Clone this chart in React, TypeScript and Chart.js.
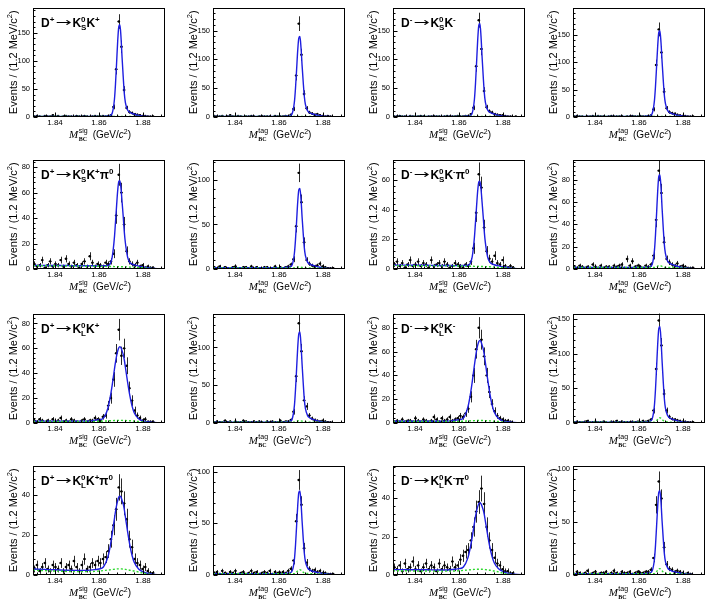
import React, { useEffect, useRef } from "react";
import { Chart, registerables } from "chart.js";

Chart.register(...registerables);

// ---------------- binning / axes ----------------
const X_MIN = 1.83;
const X_MAX = 1.89;
const BIN_WIDTH = 0.0012; // 1.2 MeV bins, 50 bins
const X_TICKS = [1.84, 1.86, 1.88];
const X_MINOR = 0.004;

// x positions at which the fit curves are tabulated
const FIT_X = [1.830, 1.835, 1.840, 1.845, 1.850, 1.855, 1.858, 1.860, 1.862, 1.864, 1.865, 1.866, 1.867, 1.8675, 1.868, 1.8685, 1.869, 1.8695, 1.870, 1.8705, 1.871, 1.8715, 1.872, 1.873, 1.874, 1.875, 1.876, 1.878, 1.880, 1.885, 1.890];

const Y_TICKS_150 = [0, 50, 100, 150];
const Y_TICKS_100 = [0, 50, 100];
const Y_TICKS_80 = [0, 20, 40, 60, 80];
const Y_TICKS_60 = [0, 20, 40, 60];
const Y_TICKS_40 = [0, 20, 40];

// ---------------- row 1: D -> KS K ----------------
const COUNTS_KSK_DP_SIG = [1,2,1,0,2,1,1,3,1,2,0,1,2,1,1,0,2,1,1,2,1,0,1,2,1,1,2,1, 2,3,18,85,170,125,48,16,9,7,5,4,3,2,2,1,1,1,0,0,0,0];
const FIT_KSK_DP_SIG = [1,1,1,1,1,1,1,1,1,1.8,2.7,6.8,30.7,58.8,96.7,135.5,161,164.4,142,105,72,42,25.8,12.6,8.4,6.4,5.1,2.9,1.6,0.4,0];
const BKG_KSK_DP_SIG = [1,1,1,1,1,1,1,1,1,1,1,1,1,1,1,1,1,1,1,1,1,1,1,1,1,1,1,0.8,0.6,0.2,0];

const COUNTS_KSK_DP_TAG = [2,1,1,2,0,1,3,1,1,2,1,0,1,1,2,1,0,1,2,1,1,1,0,2,1,1,1,2, 1,4,14,72,162,108,40,15,8,6,4,5,3,2,1,2,1,0,0,0,0,0];
const FIT_KSK_DP_TAG = [1,1,1,1,1,1,1,1,1,1.7,2.4,5.9,26.2,50,82.2,115.1,136.8,139.6,120.7,89.2,61.2,36,22,10.8,7.3,5.6,4.5,2.6,1.4,0.3,0];
const BKG_KSK_DP_TAG = [1,1,1,1,1,1,1,1,1,1,1,1,1,1,1,1,1,1,1,1,1,1,1,1,1,1,1,0.8,0.6,0.2,0];

const COUNTS_KSK_DM_SIG = [1,1,2,1,1,0,2,1,1,1,2,1,0,1,1,2,1,1,0,1,2,1,1,1,2,1,1,2, 2,5,16,88,168,118,45,17,10,8,5,4,3,3,2,1,1,0,1,0,0,0];
const FIT_KSK_DM_SIG = [1,1,1,1,1,1,1,1,1,1.8,2.6,6.7,30.3,58,95.5,133.8,159.1,162.4,140.4,103.7,71.1,41.8,25.5,12.4,8.3,6.4,5.1,2.9,1.6,0.4,0];
const BKG_KSK_DM_SIG = [1,1,1,1,1,1,1,1,1,1,1,1,1,1,1,1,1,1,1,1,1,1,1,1,1,1,1,0.8,0.6,0.2,0];

const COUNTS_KSK_DM_TAG = [1,2,1,1,0,1,1,2,1,2,1,1,0,1,2,1,1,1,2,0,1,1,2,1,1,2,1,1, 2,3,14,95,160,118,46,16,9,7,6,4,3,2,2,1,1,1,0,0,0,0];
const FIT_KSK_DM_TAG = [1,1,1,1,1,1,1,1,1,1.8,2.6,6.5,29.4,56.3,92.6,129.8,154.3,157.4,136.1,100.5,68.9,40.5,24.7,12.1,8.1,6.2,5.0,2.8,1.6,0.4,0];
const BKG_KSK_DM_TAG = [1,1,1,1,1,1,1,1,1,1,1,1,1,1,1,1,1,1,1,1,1,1,1,1,1,1,1,0.8,0.6,0.2,0];

// ---------------- row 2: D -> KS K pi0 ----------------
const COUNTS_KSKPI0_DP_SIG = [4,2,3,7,1,3,6,2,4,3,7,2,8,4,2,5,3,1,4,6,2,10,5,2,4,3,2,5, 4,6,12,42,74,60,35,14,6,4,3,5,2,3,1,2,1,1,0,0,0,0];
const FIT_KSKPI0_DP_SIG = [2.9,2.8,2.8,2.7,2.6,2.5,2.5,2.4,2.5,2.7,3.8,9.3,24.6,36.9,49.8,61.7,68.7,69.4,63.3,52.4,41.4,29.2,20.4,9.4,5.2,3.8,3.2,2.3,1.6,0.4,0];
const BKG_KSKPI0_DP_SIG = [2.6,2.5,2.5,2.4,2.3,2.2,2.2,2.1,2.1,2.0,2.0,2.0,1.9,1.9,1.9,1.9,1.8,1.8,1.8,1.8,1.7,1.7,1.7,1.6,1.5,1.5,1.4,1.2,1.0,0.3,0];

const COUNTS_KSKPI0_DP_TAG = [2,1,3,1,2,1,0,2,3,1,1,2,2,1,3,1,2,0,1,2,2,1,1,3,1,2,1,2, 3,5,11,48,108,75,30,10,6,4,3,4,6,3,2,1,1,1,0,0,0,0];
const FIT_KSKPI0_DP_TAG = [1.5,1.5,1.5,1.5,1.5,1.5,1.5,1.5,1.5,1.95,2.4,4.7,17.7,33,53.7,74.9,88.8,90.6,78.5,58.2,40.2,24,15,7.8,5.5,4.5,3.75,2.3,1.3,0.3,0];
const BKG_KSKPI0_DP_TAG = [1.2,1.2,1.2,1.2,1.2,1.2,1.2,1.2,1.2,1.2,1.2,1.2,1.2,1.2,1.6,2.0,2.3,2.3,2.1,1.8,1.5,1.3,1.2,1.2,1.2,1.2,1.2,1.0,0.8,0.2,0];

const COUNTS_KSKPI0_DM_SIG = [3,5,2,4,1,3,6,2,3,5,2,4,3,1,6,2,3,4,2,5,3,1,2,4,3,2,1,3, 2,5,14,38,64,55,28,12,7,5,9,4,3,6,2,1,2,1,0,0,0,0];
const FIT_KSKPI0_DM_SIG = [2.6,2.6,2.5,2.5,2.4,2.4,2.3,2.3,2.4,2.55,3.5,8.2,21.2,31.7,42.7,52.9,58.8,59.4,54.2,44.9,35.5,25.1,17.6,8.2,4.7,3.4,2.9,2.1,1.5,0.4,0];
const BKG_KSKPI0_DM_SIG = [2.3,2.3,2.2,2.2,2.1,2.1,2.0,2.0,2.0,1.9,1.9,1.9,1.8,1.8,1.8,1.8,1.7,1.7,1.7,1.7,1.6,1.6,1.6,1.5,1.5,1.4,1.3,1.1,0.9,0.3,0];

const COUNTS_KSKPI0_DM_TAG = [2,1,3,2,1,2,1,4,2,1,3,1,2,2,1,3,2,3,4,1,9,3,7,2,3,2,1,3, 2,4,12,44,88,68,24,9,6,4,3,5,2,3,2,1,1,1,0,0,0,0];
const FIT_KSKPI0_DM_TAG = [1.3,1.3,1.3,1.3,1.3,1.3,1.3,1.3,1.3,1.7,2.1,4.2,16.4,30.7,50,69.8,82.8,84.5,73.1,54.2,37.4,22.3,13.9,7.2,5.1,4.1,3.4,2.0,1.2,0.3,0];
const BKG_KSKPI0_DM_TAG = [1.3,1.3,1.3,1.3,1.3,1.3,1.3,1.3,1.3,1.3,1.3,1.3,1.3,1.5,2.0,2.6,3.0,3.0,2.8,2.3,1.9,1.6,1.4,1.3,1.3,1.3,1.3,1.1,0.9,0.2,0];

// ---------------- row 3: D -> KL K ----------------
const COUNTS_KLK_DP_SIG = [2,1,3,2,0,2,1,3,1,2,4,1,2,1,3,2,1,0,2,3,1,2,2,4, 3,2,5,6,14,20,35,56,75,54,60,46,28,18,10,6,4,2,3,1,1,1,0,0,0,0];
const FIT_KLK_DP_SIG = [1.5,1.5,1.5,1.5,1.5,1.5,2.2,2.6,3.9,11.7,19.8,30.5,43,48.9,54,57.9,60.5,61.4,60.5,57.9,55.1,50.7,44.8,32.9,22.2,13.8,8.3,3.4,1.75,0.5,0];
const BKG_KLK_DP_SIG = [1.2,1.2,1.2,1.2,1.2,1.2,1.3,1.4,1.5,1.7,1.8,1.9,2.0,2.0,2.1,2.1,2.1,2.1,2.1,2.1,2.0,2.0,2.0,1.9,1.8,1.7,1.5,1.2,0.8,0.2,0];

const COUNTS_KLK_DP_TAG = [1,2,1,1,3,1,2,0,2,1,1,3,2,1,1,2,1,2,1,0,2,1,2,1,1,3,1,2, 2,4,15,62,132,95,30,22,10,6,4,3,2,3,2,1,1,0,0,0,0,0];
const FIT_KLK_DP_TAG = [1.2,1.2,1.2,1.2,1.2,1.2,1.2,1.2,1.2,1.8,2.4,5.4,23,44,71.8,99.6,118,120.5,104,77.4,53.2,31.5,19.5,9.8,6.8,5.2,4.2,2.5,1.3,0.3,0];
const BKG_KLK_DP_TAG = [1.2,1.2,1.2,1.2,1.2,1.2,1.2,1.2,1.2,1.2,1.2,1.2,1.2,1.5,2.0,2.6,3.0,3.0,2.8,2.4,2.0,1.6,1.4,1.3,1.2,1.2,1.2,1.0,0.8,0.2,0];

const COUNTS_KLK_DM_SIG = [1,2,1,3,1,2,2,1,4,2,1,3,2,1,2,5,3,1,4,2,3,5,2,3,4,6,5,8, 12,22,40,62,80,70,56,40,26,16,10,6,4,3,2,2,1,0,0,0,0,0];
const FIT_KLK_DM_SIG = [1.5,1.5,1.5,1.5,1.5,1.6,2.3,2.7,4.1,13.1,22.2,34.4,48.5,55.2,61,65.4,68.4,69.4,68.4,65.4,62.3,57.2,50.5,37,24.9,15.4,9.2,3.7,1.8,0.5,0];
const BKG_KLK_DM_SIG = [1.2,1.2,1.2,1.2,1.2,1.3,1.3,1.4,1.5,1.7,1.8,1.9,2.0,2.0,2.1,2.1,2.1,2.1,2.1,2.1,2.0,2.0,2.0,1.9,1.8,1.7,1.5,1.2,0.8,0.2,0];

const COUNTS_KLK_DM_TAG = [1,2,1,1,2,3,1,1,2,1,1,2,1,0,2,1,3,1,2,1,1,1,2,1,2,1,3,2, 3,5,18,78,148,112,42,18,9,6,5,4,3,2,2,1,1,1,0,0,0,0];
const FIT_KLK_DM_TAG = [1.2,1.2,1.2,1.2,1.2,1.2,1.2,1.2,1.2,1.9,2.5,5.9,25.2,48.6,80.6,113.9,136.2,139.3,120.5,89,60.8,35.8,21.9,10.7,7.3,5.6,4.5,2.7,1.6,0.3,0];
const BKG_KLK_DM_TAG = [1.2,1.2,1.2,1.2,1.2,1.2,1.2,1.2,1.2,1.2,1.2,1.2,1.2,2.0,3.5,5.5,7.2,7.6,6.8,5.2,3.6,2.5,1.9,1.4,1.3,1.2,1.2,1.0,0.8,0.2,0];

// ---------------- row 4: D -> KL K pi0 ----------------
const COUNTS_KLKPI0_DP_SIG = [3,5,2,4,6,3,2,5,4,3,6,2,4,5,3,7,4,2,5,8,3,4,6,5,7, 6,8,9,12,18,25,33,44,42,36,28,18,14,8,6,5,3,4,2,1,1,0,0,0,0];
const FIT_KLKPI0_DP_SIG = [3.0,2.8,2.6,2.4,2.3,2.3,2.7,3.0,4.0,8.9,13.9,20.6,28.2,31.9,35,37.4,39.1,39.6,39.1,37.3,35.7,32.9,29.2,21.8,15.1,9.9,6.4,3.0,1.6,0.3,0];
const BKG_KLKPI0_DP_SIG = [2.4,2.2,2.0,1.8,1.7,1.7,1.8,2.0,2.2,2.5,2.6,2.8,2.9,3.0,3.0,3.1,3.1,3.1,3.1,3.0,3.0,2.9,2.8,2.6,2.4,2.2,2.0,1.5,1.0,0.2,0];

const COUNTS_KLKPI0_DP_TAG = [2,3,1,4,2,1,3,2,4,1,2,3,1,2,4,2,3,1,2,3,2,4,1,3,2,2,3,2, 4,6,14,52,92,68,26,12,6,4,5,3,4,2,2,1,1,1,0,0,0,0];
const FIT_KLKPI0_DP_TAG = [1.3,1.3,1.3,1.3,1.3,1.3,1.3,1.3,1.3,1.7,2.1,4.0,15.2,28.8,47.5,66.8,79.7,81.4,70.4,52.1,35.7,21.3,13.3,6.9,4.9,3.8,3.2,2.1,1.4,0.3,0];
const BKG_KLKPI0_DP_TAG = [1.3,1.3,1.3,1.3,1.3,1.3,1.3,1.3,1.3,1.3,1.3,1.3,1.3,1.8,2.8,4.0,5.0,5.2,4.6,3.6,2.6,2.0,1.7,1.5,1.4,1.3,1.3,1.1,0.9,0.2,0];

const COUNTS_KLKPI0_DM_SIG = [4,3,5,2,6,3,4,7,3,5,2,4,6,3,5,4,2,6,3,5,4,3,7,4,5, 8,10,12,13,18,25,33,38,45,37,25,18,13,9,6,5,3,2,2,1,1,0,0,0,0];
const FIT_KLKPI0_DM_SIG = [2.8,2.8,2.7,2.7,2.6,2.6,3.0,3.3,4.2,8.8,13.5,19.7,27,30.5,33.4,35.6,37.1,37.6,37.1,35.6,33.9,31.4,27.9,21,14.7,9.7,6.4,3.2,1.8,0.4,0];
const BKG_KLKPI0_DM_SIG = [2.2,2.2,2.1,2.1,2.0,2.0,2.1,2.2,2.4,2.6,2.7,2.8,2.9,3.0,3.0,3.0,3.0,3.0,3.0,3.0,2.9,2.9,2.8,2.7,2.5,2.3,2.1,1.6,1.0,0.2,0];

const COUNTS_KLKPI0_DM_TAG = [1,3,2,1,2,4,1,2,3,1,2,2,3,1,2,4,2,1,3,2,2,3,1,2,3,2,2,3, 3,5,16,66,88,72,26,10,6,5,3,4,3,2,1,2,1,0,0,0,0,0];
const FIT_KLKPI0_DM_TAG = [1.3,1.3,1.3,1.3,1.3,1.3,1.3,1.3,1.3,1.7,2.0,3.9,14.6,27.9,46.1,64.9,77.6,79.3,68.6,50.6,34.7,20.6,12.8,6.7,4.7,3.7,3.2,2.1,1.3,0.3,0];
const BKG_KLKPI0_DM_TAG = [1.3,1.3,1.3,1.3,1.3,1.3,1.3,1.3,1.3,1.3,1.3,1.3,1.3,2.0,3.2,4.6,5.8,6.0,5.3,4.0,2.9,2.1,1.7,1.5,1.4,1.3,1.3,1.1,0.9,0.2,0];

// ---------------- panel table ----------------
type Decay = { charge: string; kaon: string; pi0: boolean } | null;
type Spec = { counts: number[]; fit: number[]; bkg: number[]; yMax: number; yTicks: number[]; kind: string; decay: Decay };

const PANELS: Spec[] = [
  { counts: COUNTS_KSK_DP_SIG, fit: FIT_KSK_DP_SIG, bkg: BKG_KSK_DP_SIG, yMax: 195, yTicks: Y_TICKS_150, kind: "sig", decay: { charge: "+", kaon: "S", pi0: false } },
  { counts: COUNTS_KSK_DP_TAG, fit: FIT_KSK_DP_TAG, bkg: BKG_KSK_DP_TAG, yMax: 190, yTicks: Y_TICKS_150, kind: "tag", decay: null },
  { counts: COUNTS_KSK_DM_SIG, fit: FIT_KSK_DM_SIG, bkg: BKG_KSK_DM_SIG, yMax: 190, yTicks: Y_TICKS_150, kind: "sig", decay: { charge: "-", kaon: "S", pi0: false } },
  { counts: COUNTS_KSK_DM_TAG, fit: FIT_KSK_DM_TAG, bkg: BKG_KSK_DM_TAG, yMax: 200, yTicks: Y_TICKS_150, kind: "tag", decay: null },

  { counts: COUNTS_KSKPI0_DP_SIG, fit: FIT_KSKPI0_DP_SIG, bkg: BKG_KSKPI0_DP_SIG, yMax: 86, yTicks: Y_TICKS_80, kind: "sig", decay: { charge: "+", kaon: "S", pi0: true } },
  { counts: COUNTS_KSKPI0_DP_TAG, fit: FIT_KSKPI0_DP_TAG, bkg: BKG_KSKPI0_DP_TAG, yMax: 123, yTicks: Y_TICKS_100, kind: "tag", decay: null },
  { counts: COUNTS_KSKPI0_DM_SIG, fit: FIT_KSKPI0_DM_SIG, bkg: BKG_KSKPI0_DM_SIG, yMax: 74, yTicks: Y_TICKS_60, kind: "sig", decay: { charge: "-", kaon: "S", pi0: true } },
  { counts: COUNTS_KSKPI0_DM_TAG, fit: FIT_KSKPI0_DM_TAG, bkg: BKG_KSKPI0_DM_TAG, yMax: 98, yTicks: Y_TICKS_80, kind: "tag", decay: null },

  { counts: COUNTS_KLK_DP_SIG, fit: FIT_KLK_DP_SIG, bkg: BKG_KLK_DP_SIG, yMax: 88, yTicks: Y_TICKS_80, kind: "sig", decay: { charge: "+", kaon: "L", pi0: false } },
  { counts: COUNTS_KLK_DP_TAG, fit: FIT_KLK_DP_TAG, bkg: BKG_KLK_DP_TAG, yMax: 145, yTicks: Y_TICKS_100, kind: "tag", decay: null },
  { counts: COUNTS_KLK_DM_SIG, fit: FIT_KLK_DM_SIG, bkg: BKG_KLK_DM_SIG, yMax: 92, yTicks: Y_TICKS_80, kind: "sig", decay: { charge: "-", kaon: "L", pi0: false } },
  { counts: COUNTS_KLK_DM_TAG, fit: FIT_KLK_DM_TAG, bkg: BKG_KLK_DM_TAG, yMax: 158, yTicks: Y_TICKS_150, kind: "tag", decay: null },

  { counts: COUNTS_KLKPI0_DP_SIG, fit: FIT_KLKPI0_DP_SIG, bkg: BKG_KLKPI0_DP_SIG, yMax: 55, yTicks: Y_TICKS_40, kind: "sig", decay: { charge: "+", kaon: "L", pi0: true } },
  { counts: COUNTS_KLKPI0_DP_TAG, fit: FIT_KLKPI0_DP_TAG, bkg: BKG_KLKPI0_DP_TAG, yMax: 106, yTicks: Y_TICKS_100, kind: "tag", decay: null },
  { counts: COUNTS_KLKPI0_DM_SIG, fit: FIT_KLKPI0_DM_SIG, bkg: BKG_KLKPI0_DM_SIG, yMax: 57, yTicks: Y_TICKS_40, kind: "sig", decay: { charge: "-", kaon: "L", pi0: true } },
  { counts: COUNTS_KLKPI0_DM_TAG, fit: FIT_KLKPI0_DM_TAG, bkg: BKG_KLKPI0_DM_TAG, yMax: 103, yTicks: Y_TICKS_100, kind: "tag", decay: null },
];

// ---------------- layout & style ----------------
const PAGE_W = 714;
const PAGE_H = 603;
const COL_X = [0, 180, 360, 540];
const ROW_FRAME_TOP = [7, 159, 313, 465];
const FRAME_LEFT = 33;
const FRAME_W = 132;
const FRAME_TOP = 7;
const FRAME_H = 110;
const CANVAS_H = 145;

const SANS = "'Liberation Sans', Arial, Helvetica, sans-serif";
const SERIF = "'Liberation Serif', 'Times New Roman', serif";
const BLUE = "#1e1ee0";
const GREEN = "#2fd82f";

type Piece = { t: string; font: string; dy?: number; sx?: number; sub?: string; subFont?: string; subDy?: number; gap?: number };

function pieceWidth(ctx: CanvasRenderingContext2D, p: Piece) {
  ctx.font = p.font;
  let w = ctx.measureText(p.t).width * (p.sx ?? 1);
  if (p.sub) {
    ctx.font = p.subFont || p.font;
    w = Math.max(w, ctx.measureText(p.sub).width);
  }
  return w + (p.gap ?? 0);
}

function drawPieces(ctx: CanvasRenderingContext2D, pieces: Piece[], x: number, y: number, center: boolean) {
  let total = 0;
  for (const p of pieces) total += pieceWidth(ctx, p);
  let cx = center ? x - total / 2 : x;
  ctx.textAlign = "left";
  ctx.textBaseline = "alphabetic";
  for (const p of pieces) {
    const w = pieceWidth(ctx, p);
    ctx.font = p.font;
    if (p.sx) {
      ctx.save();
      ctx.translate(cx, y + (p.dy ?? 0));
      ctx.scale(p.sx, 1);
      ctx.fillText(p.t, 0, 0);
      ctx.restore();
    } else {
      ctx.fillText(p.t, cx, y + (p.dy ?? 0));
    }
    if (p.sub) {
      ctx.font = p.subFont || p.font;
      ctx.fillText(p.sub, cx, y + (p.subDy ?? 0));
    }
    cx += w;
  }
}

function decayPieces(d: { charge: string; kaon: string; pi0: boolean }): Piece[] {
  const B = `bold 12px ${SANS}`;
  const S = `bold 8px ${SANS}`;
  const ps: Piece[] = [
    { t: "D", font: B },
    { t: d.charge, font: S, dy: -5, gap: 1 },
    { t: "\u2192", font: `12px 'DejaVu Sans', sans-serif`, sx: 1.6, dy: -0.5, gap: 1 },
    { t: "K", font: B },
    { t: "0", font: S, dy: -5, sub: d.kaon, subFont: S, subDy: 3 },
    { t: "K", font: B },
    { t: d.charge, font: S, dy: -5 },
  ];
  if (d.pi0) {
    ps.push({ t: "\u03c0", font: B });
    ps.push({ t: "0", font: S, dy: -5 });
  }
  return ps;
}

function xTitlePieces(kind: string): Piece[] {
  return [
    { t: "M", font: `italic 11px ${SERIF}`, gap: 0.5 },
    { t: kind, font: `7px ${SANS}`, dy: -5.5, sub: "BC", subFont: `bold 6px ${SERIF}`, subDy: 3, gap: 5 },
    { t: "(GeV/", font: `10px ${SANS}` },
    { t: "c", font: `italic 10px ${SANS}` },
    { t: "2", font: `7px ${SANS}`, dy: -4 },
    { t: ")", font: `10px ${SANS}` },
  ];
}

const Y_TITLE: Piece[] = [
  { t: "Events / (1.2 MeV/c", font: `11px ${SANS}` },
  { t: "2", font: `7.5px ${SANS}`, dy: -4.5 },
  { t: ")", font: `11px ${SANS}` },
];

function Panel({ spec, index }: { spec: Spec; index: number }) {
  const ref = useRef<HTMLCanvasElement | null>(null);
  const row = Math.floor(index / 4);
  const col = index % 4;
  const left = COL_X[col];
  const width = col === 3 ? PAGE_W - COL_X[3] : 180;
  const top = ROW_FRAME_TOP[row] - FRAME_TOP;

  useEffect(() => {
    const canvas = ref.current;
    if (!canvas) return;
    const centers = spec.counts.map((_, i) => X_MIN + (i + 0.5) * BIN_WIDTH);
    const points = spec.counts
      .map((n, i) => ({ x: centers[i], y: n }))
      .filter((p) => p.y > 0);
    const yStep = spec.yTicks[1] - spec.yTicks[0];

    const errPlugin = {
      id: "errbars",
      beforeDatasetsDraw(chart: any) {
        const { ctx, chartArea: a, scales } = chart;
        const xs = scales.x;
        const ys = scales.y;
        ctx.save();
        ctx.beginPath();
        ctx.rect(a.left, a.top, a.right - a.left, a.bottom - a.top);
        ctx.clip();
        ctx.strokeStyle = "#2a2a2a";
        ctx.lineWidth = 1;
        ctx.beginPath();
        for (const p of points) {
          const e = Math.sqrt(p.y);
          const px = Math.round(xs.getPixelForValue(p.x)) + 0.5;
          const py = ys.getPixelForValue(p.y);
          ctx.moveTo(px, ys.getPixelForValue(p.y + e));
          ctx.lineTo(px, ys.getPixelForValue(Math.max(0, p.y - e)));
          ctx.moveTo(xs.getPixelForValue(p.x - BIN_WIDTH / 2), py);
          ctx.lineTo(xs.getPixelForValue(p.x + BIN_WIDTH / 2), py);
        }
        ctx.stroke();
        ctx.restore();
      },
    };

    const framePlugin = {
      id: "frame",
      afterDraw(chart: any) {
        const { ctx, chartArea: a, scales } = chart;
        const xs = scales.x;
        const ys = scales.y;
        ctx.save();
        ctx.strokeStyle = "#000";
        ctx.lineWidth = 1;
        const L = Math.round(a.left) + 0.5;
        const R = Math.round(a.right) - 0.5;
        const T = Math.round(a.top) + 0.5;
        const B = Math.round(a.bottom) - 0.5;
        ctx.strokeRect(L, T, R - L, B - T);
        ctx.beginPath();
        const yMinor = yStep / 5;
        for (let k = 0; k * yMinor <= spec.yMax + 1e-9; k++) {
          const v = k * yMinor;
          const py = Math.round(ys.getPixelForValue(v)) + 0.5;
          const major = k % 5 === 0;
          ctx.moveTo(L, py);
          ctx.lineTo(L + (major ? 4 : 2), py);
        }
        const start = X_TICKS[0] - Math.floor((X_TICKS[0] - X_MIN) / X_MINOR + 1e-9) * X_MINOR;
        for (let k = 0; start + k * X_MINOR <= X_MAX + 1e-9; k++) {
          const v = start + k * X_MINOR;
          const major = X_TICKS.some((t) => Math.abs(t - v) < 1e-7);
          const px = Math.round(xs.getPixelForValue(v)) + 0.5;
          ctx.moveTo(px, B);
          ctx.lineTo(px, B - (major ? 4 : 2));
        }
        ctx.stroke();

        ctx.fillStyle = "#000";
        // y title
        ctx.save();
        ctx.translate(16.6, (a.top + a.bottom) / 2);
        ctx.rotate(-Math.PI / 2);
        drawPieces(ctx, Y_TITLE, 0, 0, true);
        ctx.restore();
        // x title
        drawPieces(ctx, xTitlePieces(spec.kind), (a.left + a.right) / 2 + 1, a.bottom + 21, true);
        // decay label
        if (spec.decay) {
          drawPieces(ctx, decayPieces(spec.decay), a.left + 8, a.top + 19, false);
        }
        ctx.restore();
      },
    };

    const chart = new Chart(canvas, {
      type: "line",
      data: {
        datasets: [
          {
            label: "bkg",
            data: FIT_X.map((x, i) => ({ x, y: spec.bkg[i] })),
            borderColor: GREEN,
            borderWidth: 1.4,
            borderDash: [2, 2],
            pointRadius: 0,
            cubicInterpolationMode: "monotone",
            fill: false,
            order: 1,
          },
          {
            label: "fit",
            data: FIT_X.map((x, i) => ({ x, y: spec.fit[i] })),
            borderColor: BLUE,
            borderWidth: 1.4,
            pointRadius: 0,
            cubicInterpolationMode: "monotone",
            fill: false,
            order: 2,
          },
          {
            label: "data",
            data: points,
            showLine: false,
            pointRadius: 1.2,
            pointBackgroundColor: "#000",
            pointBorderWidth: 0,
            borderColor: "#000",
            order: 3,
          },
        ],
      } as any,
      options: {
        responsive: false,
        animation: false,
        events: [],
        layout: {
          autoPadding: false,
          padding: { left: 0, top: FRAME_TOP, right: width - FRAME_LEFT - FRAME_W, bottom: 0 },
        },
        plugins: { legend: { display: false }, tooltip: { enabled: false } },
        scales: {
          x: {
            type: "linear",
            min: X_MIN,
            max: X_MAX,
            grid: { display: false, drawTicks: false, tickLength: 0 },
            border: { display: false },
            ticks: {
              font: { family: SANS, size: 8 },
              color: "#000",
              padding: 1,
              maxRotation: 0,
              autoSkip: false,
              callback: (v: any) => Number(v).toFixed(2),
            },
            afterBuildTicks: (s: any) => {
              s.ticks = X_TICKS.map((v) => ({ value: v }));
            },
            afterFit: (s: any) => {
              s.height = CANVAS_H - FRAME_TOP - FRAME_H;
            },
          },
          y: {
            type: "linear",
            min: 0,
            max: spec.yMax,
            grid: { display: false, drawTicks: false, tickLength: 0 },
            border: { display: false },
            ticks: {
              font: { family: SANS, size: 7.5 },
              color: "#000",
              padding: 3,
              autoSkip: false,
              callback: (v: any) => String(v),
            },
            afterBuildTicks: (s: any) => {
              s.ticks = spec.yTicks.map((v) => ({ value: v }));
            },
            afterFit: (s: any) => {
              s.width = FRAME_LEFT;
            },
          },
        },
      } as any,
      plugins: [errPlugin, framePlugin],
    });
    return () => chart.destroy();
  }, [spec, width]);

  return (
    <canvas
      ref={ref}
      width={width}
      height={CANVAS_H}
      style={{ position: "absolute", left, top, width, height: CANVAS_H, display: "block" }}
    />
  );
}

export default function App() {
  return (
    <div style={{ position: "absolute", left: 0, top: 0, width: PAGE_W, height: PAGE_H, background: "#fff", overflow: "hidden" }}>
      {PANELS.map((p, i) => (
        <Panel key={i} spec={p} index={i} />
      ))}
    </div>
  );
}
